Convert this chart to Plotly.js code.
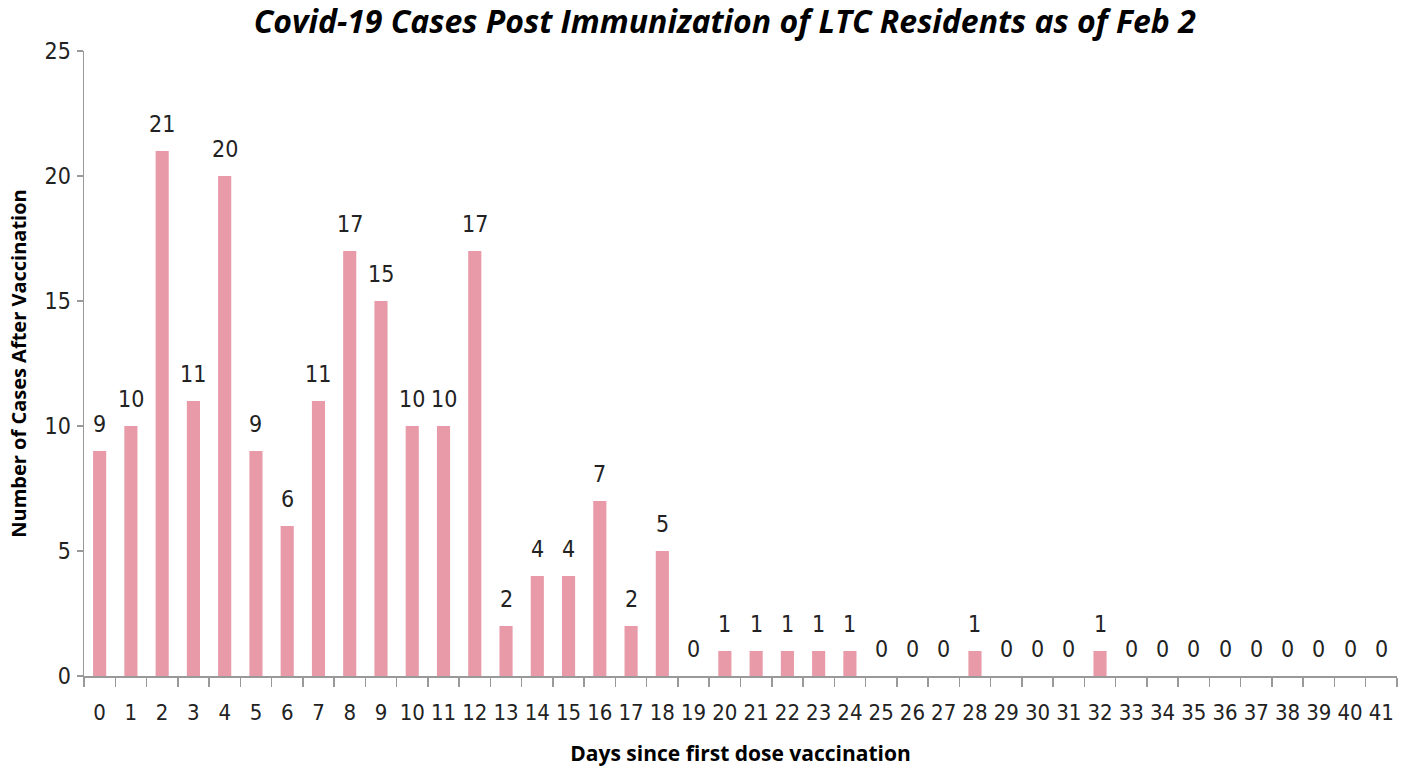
<!DOCTYPE html>
<html>
<head>
<meta charset="utf-8">
<script src="https://cdn.plot.ly/plotly-3.0.1.min.js"></script>
<style>html,body{margin:0;padding:0;background:#fff;}#chart{width:1410px;height:767px;}</style>
</head>
<body>
<div id="chart"></div>
<script>
const days = ["0","1","2","3","4","5","6","7","8","9","10","11","12","13","14","15","16","17","18","19","20","21","22","23","24","25","26","27","28","29","30","31","32","33","34","35","36","37","38","39","40","41"];
const cases = [9,10,21,11,20,9,6,11,17,15,10,10,17,2,4,4,7,2,5,0,1,1,1,1,1,0,0,0,1,0,0,0,1,0,0,0,0,0,0,0,0,0];
const yTicks = [0,5,10,15,20,25];

const narrow = '"Liberation Sans Narrow", "DejaVu Sans Condensed", sans-serif';

const annotations = days.map((d, i) => ({
  x: d, y: cases[i], xref: 'x', yref: 'y',
  text: String(cases[i]), showarrow: false,
  yanchor: 'bottom', yshift: 12,
  font: {family: narrow, size: 23, color: '#222'}
}));

const trace = {
  type: 'bar', x: days, y: cases,
  marker: {color: '#e89aa8'},
  width: 0.42, hoverinfo: 'x+y'
};

const layout = {
  width: 1410, height: 767,
  margin: {l: 84, r: 13, t: 51, b: 91},
  paper_bgcolor: '#fff', plot_bgcolor: '#fff',
  showlegend: false,
  title: {
    text: '<b><i>Covid-19 Cases Post Immunization of LTC Residents as of Feb 2</i></b>',
    font: {family: '"Open Sans", sans-serif', size: 32, color: '#000'},
    xref: 'paper', x: 0.488, xanchor: 'center',
    yref: 'container', y: 0.972, yanchor: 'middle'
  },
  xaxis: {
    type: 'category', categoryorder: 'array', categoryarray: days,
    showline: true, linecolor: '#999', linewidth: 1.5,
    ticks: 'outside', tickson: 'boundaries', ticklen: 9, tickcolor: '#999', tickwidth: 1.5,
    tickfont: {family: narrow, size: 22, color: '#222'},
    tickangle: 0,
    ticklabelstandoff: 16,
    showgrid: false, zeroline: false,
    title: {text: '<b>Days since first dose vaccination</b>', font: {family: '"Open Sans", sans-serif', size: 21, color: '#000'}, standoff: 24}
  },
  yaxis: {
    range: [0, 25], tickvals: yTicks, ticktext: yTicks.map(String),
    showline: true, linecolor: '#999', linewidth: 1.5,
    ticks: 'outside', ticklen: 6, tickcolor: '#999', tickwidth: 1.5,
    tickfont: {family: narrow, size: 23, color: '#222'},
    ticklabelstandoff: 1,
    showgrid: false, zeroline: false,
    title: {text: '<b>Number of Cases After Vaccination</b>', font: {family: '"Open Sans", sans-serif', size: 20, color: '#000'}, standoff: 12}
  },
  annotations: annotations
};

Plotly.newPlot('chart', [trace], layout, {displayModeBar: false, staticPlot: true});
</script>
</body>
</html>
